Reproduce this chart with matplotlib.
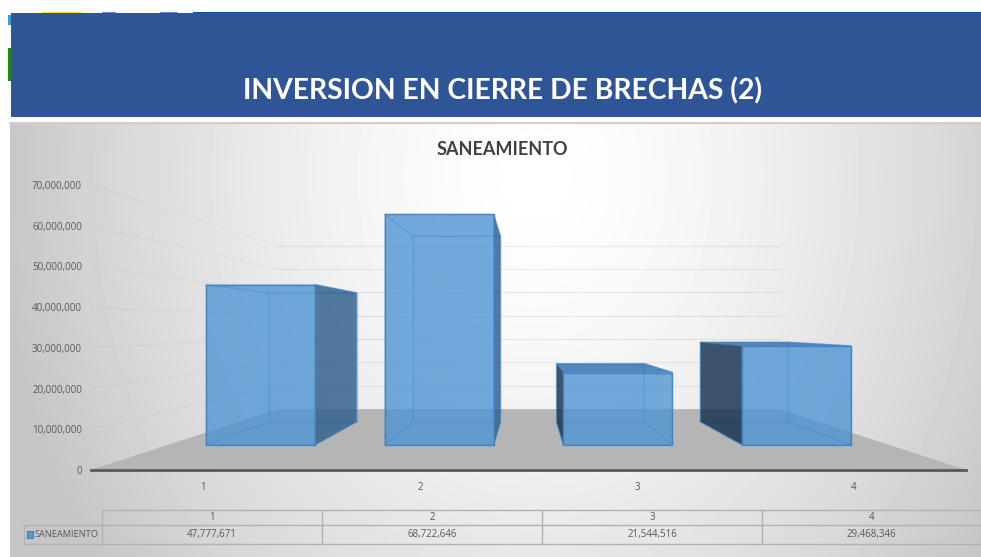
import numpy as np
import matplotlib
matplotlib.use("Agg")
import matplotlib.pyplot as plt
from matplotlib.patches import Polygon, Rectangle
from matplotlib.ticker import FuncFormatter

title = "INVERSION EN CIERRE DE BRECHAS (2)"
chart_title = "SANEAMIENTO"
categories = [1, 2, 3, 4]
values = [47777671, 68722646, 21544516, 29468346]
yticks = [0, 10000000, 20000000, 30000000, 40000000, 50000000, 60000000, 70000000]

W, H = 981, 557
fig = plt.figure(figsize=(W / 100, H / 100), dpi=100, facecolor="white")
plt.rcParams["font.family"] = ["Open Sans", "DejaVu Sans"]

# page layer, in pixels
bg = fig.add_axes([0, 0, 1, 1], zorder=0)
bg.set_xlim(0, W)
bg.set_ylim(H, 0)
bg.axis("off")

# chart-area gradient
gx, gy = np.meshgrid(np.arange(10, W), np.arange(122, H))
d = np.sqrt(((gx - 535) / 540) ** 2 + ((gy - 175) / 680) ** 2)
shade = np.clip(255 - 58 * d ** 1.5, 198, 255) / 255
bg.imshow(shade, extent=(10, W, H, 122), cmap="gray", vmin=0, vmax=1,
          aspect="auto", zorder=0, interpolation="bilinear")
bg.set_xlim(0, W)
bg.set_ylim(H, 0)
bg.plot([10, W], [122.5, 122.5], color="#cfcfcf", lw=1.5, zorder=1)

# logo remnants around the banner
bg.add_patch(Rectangle((8, 48), 4, 33, fc="#1f8a12", lw=0, zorder=1))
bg.add_patch(Rectangle((8, 15), 4, 10, fc="#3d9ad6", lw=0, zorder=1))
bg.add_patch(Rectangle((42, 12), 40, 2, fc="#f2e51a", lw=0, zorder=1))
bg.add_patch(Rectangle((102, 12), 14, 2, fc="#6f86c8", lw=0, zorder=1))
bg.add_patch(Rectangle((160, 12), 18, 2, fc="#6f86c8", lw=0, zorder=1))
bg.add_patch(Rectangle((193, 12), W - 193, 2, fc="#0f4f96", lw=0, zorder=1))
# banner
bg.text(502.5, 90.5, title, color="white", fontsize=20.3, fontweight="bold", family="Lato",
        ha="center", va="center", zorder=3)
bg.add_patch(Rectangle((11, 13), W - 11, 104, fc="#2F5597", lw=0, zorder=2))
bg.text(502, 149.5, chart_title, color="#404040", fontsize=13, fontweight="bold", family="Lato",
        ha="center", va="center", zorder=3)

# data table
grid_c = "#b2b2b2"
col_edges = [102, 322, 542, 762, W]
row_edges = [510, 525, 544]
for y in row_edges:
    bg.plot([col_edges[0], W], [y, y], color=grid_c, lw=1, zorder=3)
bg.plot([24, 102], [525, 525], color=grid_c, lw=1, zorder=3)
bg.plot([24, 102], [544, 544], color=grid_c, lw=1, zorder=3)
bg.plot([24, 24], [525, 544], color=grid_c, lw=1, zorder=3)
for x in col_edges:
    bg.plot([x, x], [510, 544], color=grid_c, lw=1, zorder=3)
for i, (c, v) in enumerate(zip(categories, values)):
    xc = (col_edges[i] + col_edges[i + 1]) / 2
    bg.text(xc, 517.5, str(c), color="#595959", fontsize=7, ha="center", va="center", zorder=4)
    bg.text(xc, 534.5, f"{v:,}", color="#595959", fontsize=7, ha="center", va="center", zorder=4)
bg.add_patch(Rectangle((27, 531), 6, 7, fc="#5B9BD5", ec="#3E7FBF", lw=0.8, zorder=4))
bg.text(35, 534.5, chart_title, color="#595959", fontsize=6.7, ha="left", va="center", zorder=4)

# plot layer: x in category units, y in value units
x_l, x_r, y_b, y_t = 91, 966, 470, 185
ax = fig.add_axes([x_l / W, 1 - y_b / H, (x_r - x_l) / W, (y_b - y_t) / H], zorder=1)
ax.patch.set_alpha(0)
ax.set_xlim(0.484, 4.516)
ax.set_ylim(0, 70000000)
for s in ("top", "left", "right"):
    ax.spines[s].set_visible(False)
ax.spines["bottom"].set_color("#5a5a5a")
ax.spines["bottom"].set_linewidth(2)
ax.set_xticks(categories)
ax.set_yticks(yticks)
ax.yaxis.set_major_formatter(FuncFormatter(lambda v, _: f"{int(v):,}"))
ax.tick_params(axis="x", length=0, pad=9, labelsize=7, labelcolor="#595959")
ax.tick_params(axis="y", length=0, pad=6.5, labelsize=7, labelcolor="#595959")

# perspective toward the middle of the plot
XV, VV = 2.5, 35100000
S_WALL, S_FRONT, S_BACK = 0.574, 0.823, 0.663
BAR_W = 0.61


def proj(x, v, s):
    return (XV + (x - XV) * s, VV + (v - VV) * s)


x0, x1 = ax.get_xlim()
# floor
ax.add_patch(Polygon([proj(x0, 0, 1), proj(x1, 0, 1), proj(x1, 0, S_WALL), proj(x0, 0, S_WALL)],
                     fc="#b5b5b5", lw=0, zorder=1, clip_on=False))
# gridlines on back and left walls
for t in yticks[1:]:
    a = proj(x0, t, 1)
    b = proj(x0, t, S_WALL)
    c = proj(x1, t, S_WALL)
    ax.plot([a[0], b[0]], [a[1], b[1]], color=(0, 0, 0, 0.025), lw=1, zorder=0.5, clip_on=False)
    ax.plot([b[0], c[0]], [b[1], c[1]], color=(0, 0, 0, 0.06), lw=1, zorder=0.5, clip_on=False)


def face(points, fc, alpha, z, edge_alpha=0.85):
    ax.add_patch(Polygon(points, facecolor=matplotlib.colors.to_rgba(fc, alpha),
                         edgecolor=matplotlib.colors.to_rgba("#3F80C0", edge_alpha), lw=1,
                         joinstyle="round", zorder=z, clip_on=False))


for c, v in zip(categories, values):
    l, r = c - BAR_W / 2, c + BAR_W / 2
    fbl, fbr, ftr, ftl = proj(l, 0, S_FRONT), proj(r, 0, S_FRONT), proj(r, v, S_FRONT), proj(l, v, S_FRONT)
    bbl, bbr, btr, btl = proj(l, 0, S_BACK), proj(r, 0, S_BACK), proj(r, v, S_BACK), proj(l, v, S_BACK)
    z = 2
    face([bbl, bbr, btr, btl], "#5B9BD5", 0.10, z, 0.3)
    face([fbl, fbr, bbr, bbl], "#4A91D6", 0.06, z, 0.3)
    # the face turned to the viewer is opaque, the far one is only seen through the front
    top_visible = v < VV
    face([ftl, ftr, btr, btl], "#2F6FB0" if top_visible else "#6FAEE8", 0.8 if top_visible else 0.15, z,
         0.6 if top_visible else 0.3)
    if c < XV:
        face([fbr, bbr, btr, ftr], "#305E8B", 0.81, z, 0.5)
        face([fbl, bbl, btl, ftl], "#4A91D6", 0.06, z, 0.3)
    else:
        face([fbl, bbl, btl, ftl], "#0E2A49", 0.78, z, 0.5)
        face([fbr, bbr, btr, ftr], "#4A91D6", 0.06, z, 0.3)
    face([fbl, fbr, ftr, ftl], "#4C93D4", 0.76, z + 0.1, 0.9)

fig.savefig("out.png", dpi=100)
